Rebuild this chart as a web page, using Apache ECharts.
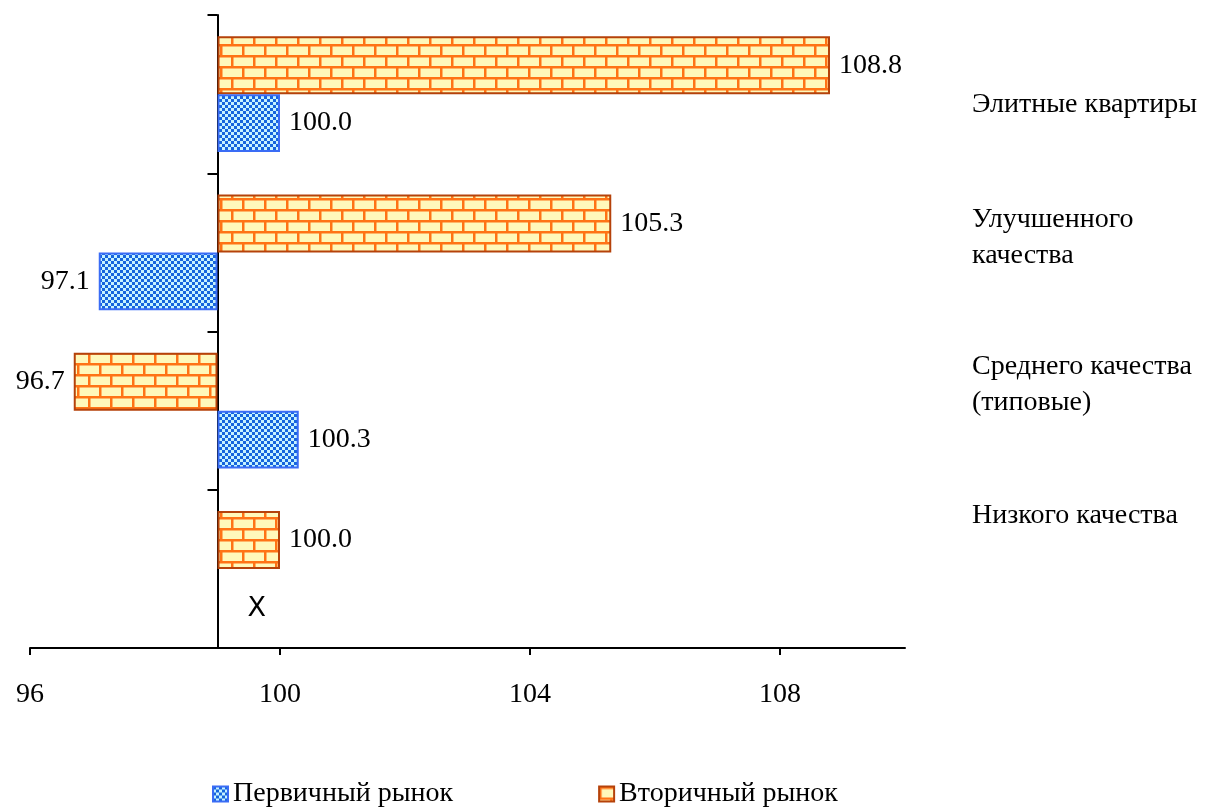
<!DOCTYPE html>
<html><head><meta charset="utf-8">
<script src="https://cdn.jsdelivr.net/npm/echarts@6.0.0/dist/echarts.min.js"></script>
<style>html,body{margin:0;padding:0;background:#fff}#c{width:1210px;height:807px}</style>
</head><body><div id="c"></div>
<script>
// ---- data ----
const categories = ['Элитные квартиры', 'Улучшенного\nкачества', 'Среднего качества\n(типовые)', 'Низкого качества'];
const primaryMarket = [100.0, 97.1, 100.3, null];     // null = no data ("X")
const secondaryMarket = [108.8, 105.3, 96.7, 100.0];
const seriesNames = ['Первичный рынок', 'Вторичный рынок'];
const xTickLabels = [96, 100, 104, 108];
const BASE = 99;      // value where the vertical axis crosses
const X_MIN = 96, X_MAX = 110;
const missingMark = 'X';

// ---- patterns ----
function brickPattern() {
  const c = document.createElement('canvas'); c.width = 22; c.height = 22;
  const g = c.getContext('2d');
  g.fillStyle = '#FFF8BA'; g.fillRect(0, 0, 22, 22);
  g.fillStyle = '#FF7315';
  g.fillRect(0, 0, 22, 2.5); g.fillRect(0, 11, 22, 2.5);
  g.fillRect(0, 2, 2.5, 9); g.fillRect(11, 13, 2.5, 9);
  return {image: c, repeat: 'repeat'};
}
function checkerPattern() {
  const c = document.createElement('canvas'); c.width = 6; c.height = 6;
  const g = c.getContext('2d');
  g.fillStyle = '#C6F2FF'; g.fillRect(0, 0, 6, 6);
  g.fillStyle = '#1565DD';
  g.fillRect(0, 0, 3, 3); g.fillRect(3, 3, 3, 3);
  return {image: c, repeat: 'repeat'};
}

const FONT = '"Liberation Serif", "Times New Roman", serif';

function mkData(arr) {
  return arr.map(v => {
    if (v == null) {
      return {value: 0, itemStyle: {color: 'rgba(0,0,0,0)', borderWidth: 0},
        label: {show: true, formatter: missingMark, position: 'right', distance: 30, offset: [0, 11],
                fontFamily: '"DejaVu Sans", sans-serif', fontSize: 27, color: '#000'}};
    }
    return {value: +(v - BASE).toFixed(3), label: {position: v >= BASE ? 'right' : 'left'}};
  });
}

const labelCommon = {
  show: true, fontFamily: FONT, fontSize: 28, color: '#000', distance: 9,
  formatter: p => (p.value + BASE).toFixed(1)
};

const catLabelY = [105, 238, 385, 516];

const chart = echarts.init(document.getElementById('c'), null, {renderer: 'canvas'});
chart.setOption({
  animation: false,
  grid: {left: 30, right: 305, top: 15, bottom: 159, containLabel: false},
  xAxis: {
    type: 'value', min: X_MIN - BASE, max: X_MAX - BASE,
    axisLine: {show: true, onZero: false, lineStyle: {color: '#000', width: 2}},
    axisTick: {show: true, length: 7, lineStyle: {color: '#000', width: 2},
               customValues: xTickLabels.map(v => v - BASE)},
    axisLabel: {customValues: xTickLabels.map(v => v - BASE), formatter: v => String(Math.round(v + BASE)),
                fontFamily: FONT, fontSize: 28, color: '#000', margin: 33},
    splitLine: {show: false}
  },
  yAxis: {
    type: 'category', data: categories, inverse: true,
    axisLine: {show: true, onZero: true, lineStyle: {color: '#000', width: 2}},
    axisTick: {show: true, length: 10, lineStyle: {color: '#000', width: 2}},
    axisLabel: {show: false},
    splitLine: {show: false}
  },
  legend: {
    data: [seriesNames[0], seriesNames[1]],
    top: 775, left: 207, itemWidth: 15, itemHeight: 15, itemGap: 145, icon: 'rect',
    textStyle: {fontFamily: FONT, fontSize: 28, color: '#000'}
  },
  graphic: categories.map((t, i) => ({
    type: 'text', x: 972, y: catLabelY[i],
    style: {text: t, fontFamily: FONT, fontSize: 28, lineHeight: 36, fill: '#000',
            align: 'left', verticalAlign: 'middle'}
  })),
  series: [
    {
      name: seriesNames[1], type: 'bar', data: mkData(secondaryMarket),
      barGap: '0%', barCategoryGap: '27%',
      itemStyle: {color: brickPattern(), borderColor: '#B5420A', borderWidth: 2},
      label: labelCommon
    },
    {
      name: seriesNames[0], type: 'bar', data: mkData(primaryMarket),
      barGap: '0%', barCategoryGap: '27%',
      itemStyle: {color: checkerPattern(), borderColor: '#3A6CF5', borderWidth: 2},
      label: labelCommon
    }
  ]
});
</script>
</body></html>
